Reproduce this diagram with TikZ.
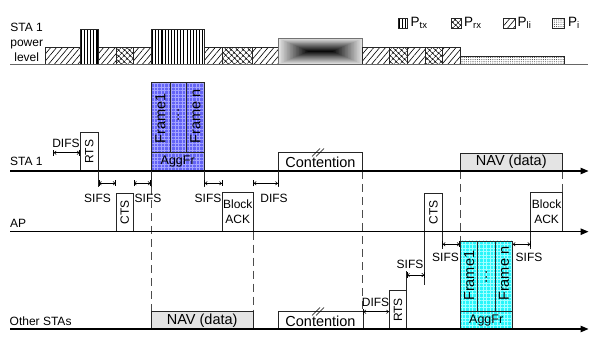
\documentclass[tikz,border=0pt]{standalone}
\usepackage{fontspec}
\setmainfont{Liberation Sans}
\usetikzlibrary{arrows.meta,patterns.meta}
\definecolor{aggblue}{RGB}{100,100,245}
\definecolor{aggbluegrid}{RGB}{165,165,255}
\definecolor{aggcyan}{RGB}{40,245,250}
\definecolor{aggcyangrid}{RGB}{160,255,255}
\definecolor{navgray}{RGB}{228,228,228}
\newcommand{\Psub}[1]{{\fontsize{13.5}{14}\selectfont P}\raisebox{-2.5pt}{\fontsize{9.5}{10}\selectfont #1}}
\newcommand{\vbars}[4]{% x1, x2, ytop, ybottom
  \pgfmathsetmacro{\nb}{int(round((#2-#1)/3.1))}
  \pgfmathsetmacro{\gap}{(#2-#1)/\nb}
  \foreach \j in {1,...,\nb}{
    \draw[line width=1.1pt] ({#1+(\j-0.5)*\gap},#3) -- ({#1+(\j-0.5)*\gap},#4);
  }
  \draw[frm] (#1,#3) rectangle (#2,#4);
}
\tikzset{
 axis/.style={line width=1.1pt, -{Triangle[length=8pt,width=6.5pt]}},
 frm/.style={draw=black!85, line width=0.7pt},
 sm/.style={font=\fontsize{12}{15}\selectfont, inner sep=0pt},
 lg/.style={font=\fontsize{14.5}{16}\selectfont, inner sep=0pt},
 dim/.style={line width=0.6pt, {Bar[width=6pt]To[length=2.5pt,width=4pt]}-{To[length=2.5pt,width=4pt]Bar[width=6pt]}},
 dsh/.style={line width=0.8pt, black!70, dash pattern=on 8pt off 5pt},
 pd/.style={frm, pattern={Lines[angle=50,distance=4.5pt,line width=0.6pt]}},
 pc/.style={frm, pattern={Hatch[angle=45,distance=4pt,line width=0.5pt]}},
 pdot/.style={frm, pattern={Dots[distance=2.2pt,radius=0.55pt]}, pattern color=black!70},
 slash/.style={line width=0.6pt},
}
\begin{document}
\begin{tikzpicture}[x=1pt,y=-1pt]
\useasboundingbox (0,0) rectangle (589,339);
% ---------- power level row ----------
\node[sm, align=center] (plabel) at (26.7,42) {STA 1\\power\\level};
\draw[pd] (45,47.3) rectangle (80,64.3);
\vbars{80}{98.5}{29.3}{64.3}
\draw[pd] (98.5,47.3) rectangle (116,64.3);
\draw[pc] (116,47.3) rectangle (133.5,64.3);
\draw[pd] (133.5,47.3) rectangle (151,64.3);
\vbars{151}{204.3}{29.3}{64.3}
\draw[pd] (204.3,47.3) rectangle (222,64.3);
\draw[pc] (222,47.3) rectangle (252,64.3);
\draw[pd] (252,47.3) rectangle (278.3,64.3);
% rectangular gradient block (contention)
\foreach \i in {0,...,40}{
  \pgfmathsetmacro{\t}{\i/40}
  \pgfmathsetmacro{\hh}{13*(1-\t)}
  \pgfmathsetmacro{\hw}{42.2-30*\t}
  \pgfmathsetmacro{\k}{10+88*\t}
  \fill[black!\k] (320.5-\hw,51.3-\hh) rectangle (320.5+\hw,51.3+\hh);
}
\draw[draw=black!55, line width=0.7pt] (278.3,38.3) rectangle (362.7,64.3);
\draw[pd] (362.7,47.3) rectangle (389.3,64.3);
\draw[pc] (389.3,47.3) rectangle (407,64.3);
\draw[pd] (407,47.3) rectangle (425,64.3);
\draw[pc] (425,47.3) rectangle (442.3,64.3);
\draw[pd] (442.3,47.3) rectangle (460,64.3);
\draw[pdot] (460,56.7) rectangle (564,64.3);
\draw[black!60, line width=1pt] (10,64.3) -- (588,64.3);
% legend
\vbars{398}{407.3}{18.3}{28}
\node[inner sep=0pt, anchor=west] (ltx) at (410.5,23) {\Psub{tx}};
\draw[pc] (451,18.3) rectangle (461.7,28);
\node[inner sep=0pt, anchor=west] (lrx) at (464,23) {\Psub{rx}};
\draw[pd] (503.3,18.3) rectangle (515.7,28);
\node[inner sep=0pt, anchor=west] (lli) at (517.5,23) {\Psub{li}};
\draw[pdot] (552.3,18.3) rectangle (564.3,28);
\node[inner sep=0pt, anchor=west] (li) at (568,23) {\Psub{i}};
% ---------- dashed guide lines ----------
\draw[dsh] (151,187) -- (151,311.7);
\draw[dsh] (253.3,231.7) -- (253.3,311.7);
\draw[dsh] (362.7,171) -- (362.7,311.7);
\draw[dsh] (460,171) -- (460,241);
\draw[dsh] (562.7,171) -- (562.7,192.7);
% ---------- STA 1 row ----------
\node[sm, anchor=west] (lsta) at (10,161) {STA 1};
\draw[dim] (53.3,152.7) -- (80,152.7);
\node[sm] (difs0) at (66,143) {DIFS};
\draw[frm, fill=white] (80,132.3) rectangle (98.5,171);
\node[sm, rotate=90] (rts1) at (89.3,151.7) {RTS};
% blue aggregate frame
\fill[aggblue] (151,82.3) rectangle (204.3,171);
\fill[pattern={Hatch[angle=0,distance=3.5pt,line width=0.45pt]}, pattern color=aggbluegrid] (151,82.3) rectangle (204.3,171);
\draw[frm] (151,82.3) rectangle (204.3,171);
\draw[frm] (151,152.3) -- (204.3,152.3);
\draw[frm] (170,82.3) -- (170,152.3);
\draw[frm] (186.7,82.3) -- (186.7,152.3);
\node[lg, rotate=90, anchor=west] (f1a) at (160.5,143.5) {Frame1};
\node[lg, rotate=90] (fda) at (178.3,115) {...};
\node[lg, rotate=90, anchor=west] (fna) at (195.5,143.5) {Frame n};
\node[sm, font=\fontsize{12.5}{14}\selectfont] (agga) at (177.7,161.7) {AggFr};
\draw[frm, fill=white] (278.3,152.7) rectangle (362.7,171);
\node[lg] (cont1) at (320.5,162.5) {Contention};
\draw[slash] (312,156.5) -- (320,148.5);
\draw[slash] (316,156.5) -- (324,148.5);
\draw[frm, fill=navgray] (460,153.3) rectangle (562.7,171);
\node[lg] (nav1) at (511.3,161.5) {NAV (data)};
\draw[axis] (10,171) -- (588.5,171);
% ticks and SIFS/DIFS between STA1 and AP
\draw[frm] (98.5,171) -- (98.5,187);
\draw[frm] (151,171) -- (151,187);
\draw[frm] (204.3,171) -- (204.3,187);
\draw[frm] (278.3,171) -- (278.3,187);
\draw[dim] (98.5,183.3) -- (116,183.3);
\draw[dim] (133.5,183.3) -- (151,183.3);
\draw[dim] (204.3,183.3) -- (222.3,183.3);
\draw[dim] (253.3,183.3) -- (278.3,183.3);
\node[sm] (s1) at (97.5,198.5) {SIFS};
\node[sm] (s2) at (148,198.5) {SIFS};
\node[sm] (s3) at (208,198.5) {SIFS};
\node[sm] (d1) at (274,198.5) {DIFS};
% ---------- AP row ----------
\node[sm, anchor=west] (lap) at (10,223) {AP};
\draw[frm, fill=white] (116,193.3) rectangle (133.5,231.7);
\node[sm, rotate=90] (cts1) at (124.8,212.5) {CTS};
\draw[frm, fill=white] (222.3,192.3) rectangle (253.3,231.7);
\node[sm, align=center] (ba1) at (237.8,211.7) {Block\\ACK};
\draw[frm, fill=white] (424.7,193.3) rectangle (442.3,231.7);
\node[sm, rotate=90] (cts2) at (433.5,212.5) {CTS};
\draw[frm, fill=white] (530.7,192.7) rectangle (562.5,231.7);
\node[sm, align=center] (ba2) at (546.6,211.7) {Block\\ACK};
\draw[axis] (10,231.7) -- (588.5,231.7);
\draw[frm] (424.7,231.7) -- (424.7,285);
\draw[frm] (442.3,231.7) -- (442.3,249);
\draw[frm] (530.7,231.7) -- (530.7,249);
\draw[dim] (442.3,244.3) -- (460,244.3);
\draw[dim] (512.3,244.3) -- (530.7,244.3);
\node[sm] (s5) at (445.5,257) {SIFS};
\node[sm] (s6) at (529,257) {SIFS};
% ---------- Other STAs row ----------
\node[sm, anchor=west] (loth) at (9.5,321) {Other STAs};
\draw[frm, fill=navgray] (151,311.7) rectangle (253.3,329);
\node[lg] (nav2) at (202.2,320.5) {NAV (data)};
\draw[frm, fill=white] (278.3,311.7) rectangle (363,329);
\node[lg] (cont2) at (320.5,321) {Contention};
\draw[slash] (312,315.5) -- (320,307.5);
\draw[slash] (316,315.5) -- (324,307.5);
\draw[dim] (363,311.7) -- (389.3,311.7);
\node[sm] (d2) at (375.5,302.7) {DIFS};
\draw[frm, fill=white] (389.3,290.7) rectangle (406.7,329);
\node[sm, rotate=90] (rts2) at (398,310) {RTS};
\draw[frm] (406.7,290.7) -- (406.7,271);
\draw[dim] (406.7,275) -- (424.7,275);
\node[sm] (s4) at (410,264) {SIFS};
% cyan aggregate frame
\fill[aggcyan] (460,241) rectangle (512.3,329);
\fill[pattern={Hatch[angle=0,distance=3.5pt,line width=0.45pt]}, pattern color=aggcyangrid] (460,241) rectangle (512.3,329);
\draw[frm] (460,241) rectangle (512.3,329);
\draw[frm] (460,311) -- (512.3,311);
\draw[frm] (477.7,241) -- (477.7,311);
\draw[frm] (495,241) -- (495,311);
\node[lg, rotate=90, anchor=west] (f1b) at (469.3,301) {Frame1};
\node[lg, rotate=90] (fdb) at (486.3,277) {...};
\node[lg, rotate=90, anchor=west] (fnb) at (504,301) {Frame n};
\node[sm, font=\fontsize{12.5}{14}\selectfont] (aggb) at (486.2,320.3) {AggFr};
\draw[axis] (10,329) -- (588.5,329);
\end{tikzpicture}
\end{document}
